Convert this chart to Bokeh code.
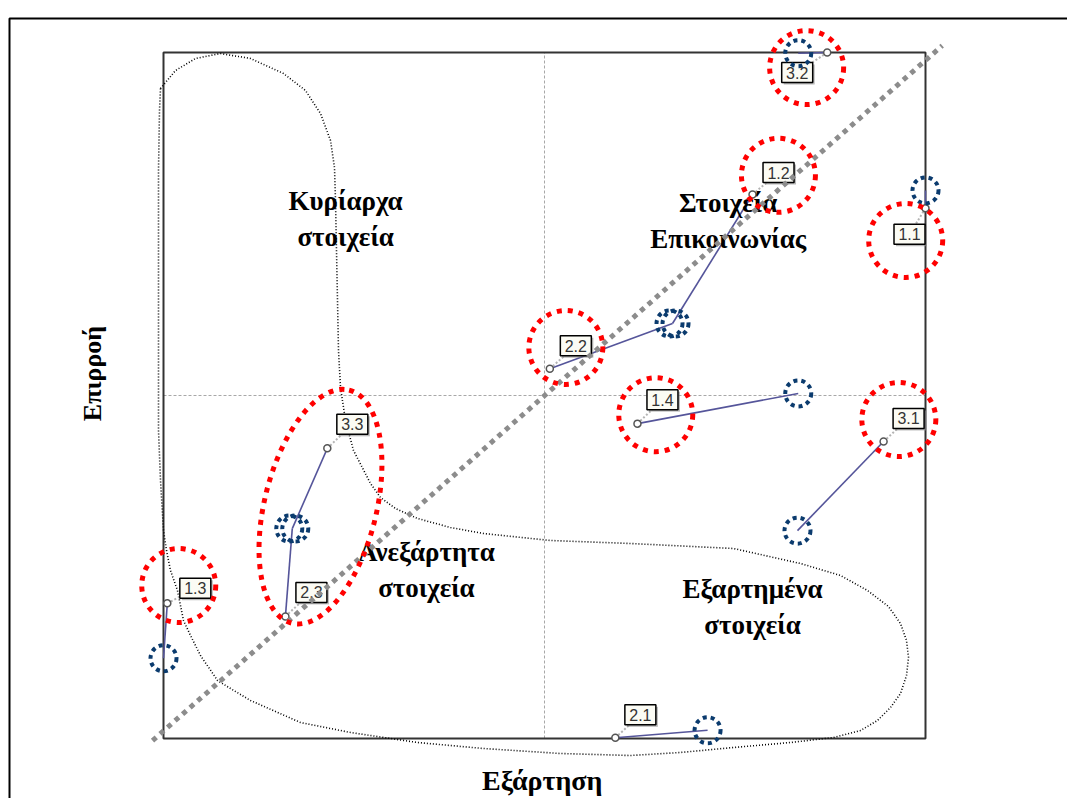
import numpy as np
from bokeh.plotting import figure
from bokeh.models import ColumnDataSource
from bokeh.embed import file_html
from bokeh.resources import INLINE
from bokeh.core.properties import value

# ---------------- data (0..1 scales: Εξάρτηση = x, Επιρροή = y) ----------------
items   = ["1.1", "1.2", "1.3", "1.4", "2.1", "2.2", "2.3", "3.1", "3.2", "3.3"]
dep_old = [1.000, 0.773, 0.005, 0.622, 0.593, 0.507, 0.160, 0.945, 0.871, 0.215]
inf_old = [0.773, 0.793, 0.197, 0.459, 0.001, 0.539, 0.178, 0.433, 1.000, 0.423]
dep_new = [1.000, 0.668, 0.000, 0.833, 0.714, 0.668, 0.169, 0.832, 0.833, 0.169]
inf_new = [0.799, 0.605, 0.117, 0.503, 0.012, 0.605, 0.306, 0.303, 0.999, 0.306]

# highlighted (red) groups
hl_x = [0.974, 0.807, 0.020, 0.646, 0.528, 0.965, 0.844]
hl_y = [0.726, 0.821, 0.223, 0.472, 0.570, 0.465, 0.978]
grp_x, grp_y = [0.206], [0.338]

quad_text = ["Κυρίαρχα\nστοιχεία", "Στοιχεία\nΕπικοινωνίας", "Ανεξάρτητα\nστοιχεία", "Εξαρτημένα\nστοιχεία"]
quad_x = [0.239, 0.741, 0.345, 0.773]
quad_y = [0.757, 0.755, 0.245, 0.192]

x_title, y_title = "Εξάρτηση", "Επιρροή"

# ---------------- layout / styles ----------------
W, H = 1067, 798
SX, SY = 762.0, 686.0          # px per unit
x0 = -163 / SX
x1 = x0 + W / SX
y1 = 738 / SY
y0 = y1 - H / SY

lab_dx = [-16, 26, 28, 25, 25, 26, 26, 25, -30, 25]   # px, right
lab_dy = [-26, 22, 15, 24, 23, 23, 24, 23, -20, 24]   # px, up
ring_dx = [0, -3, 0, 0, 0, 3, -3, 0, 0, 3]

# outline of the item regions (pixel readings of the hand-drawn lobe)
lobe_px = [(160, 88), (175, 70), (195, 58), (220, 53), (250, 58), (283, 73), (305, 90), (320, 113),
           (330, 140), (334, 167), (335, 200), (336, 250), (337, 300), (338, 350), (340, 387),
           (345, 420), (353, 450), (370, 483), (380, 497), (395, 508), (417, 518), (450, 527),
           (483, 533), (550, 540), (630, 543), (733, 548), (800, 563), (840, 575), (867, 590),
           (888, 606), (900, 623), (906, 640), (908, 657), (906, 675), (900, 693), (890, 707),
           (877, 720), (860, 730), (833, 737), (790, 742), (733, 747), (680, 752), (630, 755),
           (560, 753), (483, 748), (417, 742), (350, 732), (300, 722), (250, 700), (230, 688),
           (217, 680), (200, 655), (190, 635), (183, 620), (177, 590), (170, 570), (166, 550),
           (163, 530), (160, 480), (158, 430), (158, 350), (158, 250), (158, 170), (159, 110),
           (160, 88)]
lobe_x = [(a - 163) / SX for a, b in lobe_px]
lobe_y = [(738 - b) / SY for a, b in lobe_px]

p = figure(width=W, height=H, x_range=(x0, x1), y_range=(y0, y1),
           output_backend="svg", toolbar_location=None,
           x_axis_type=None, y_axis_type=None, min_border=0)
p.grid.visible = False
p.outline_line_color = None
p.background_fill_color = "white"

# outer frame
p.quad(left=[(9 - 163) / SX], right=[(1100 - 163) / SX], bottom=[(738 - 830) / SY], top=[(738 - 18) / SY],
       fill_color=None, line_color="black", line_width=2)

# center lines
p.segment(x0=[0.5, 0], y0=[0, 0.5], x1=[0.5, 1], y1=[1, 0.5],
          line_color="#a8a8a8", line_width=1, line_dash="3 2")

# inner frame
p.quad(left=[0], right=[1], bottom=[0], top=[1], fill_color=None,
       line_color="#333333", line_width=2)

# lobe
p.line(lobe_x, lobe_y, line_color="black", line_width=1.6, line_dash="1 2")

src = ColumnDataSource(dict(
    item=items, xo=dep_old, yo=inf_old, xn=dep_new, yn=inf_new,
    lx=[a + d / SX for a, d in zip(dep_old, lab_dx)],
    ly=[b + d / SY for b, d in zip(inf_old, lab_dy)],
    sx=[a + (d + 2) / SX for a, d in zip(dep_old, lab_dx)],
    sy=[b + (d - 2) / SY for b, d in zip(inf_old, lab_dy)],
    rx=[a + d / SX for a, d in zip(dep_new, ring_dx)],
))

# movement lines
p.segment(x0="xo", y0="yo", x1="xn", y1="yn", source=src,
          line_color="#55559a", line_width=1.6)
# leaders to labels
p.segment(x0="xo", y0="yo", x1="lx", y1="ly", source=src,
          line_color="#b4b4b4", line_width=2, line_dash="2 2")
# old position markers
p.scatter(x="xo", y="yo", source=src, size=7, marker="circle",
          fill_color="white", line_color="#555555", line_width=1.5)

# label boxes
p.rect(x="sx", y="sy", width=31, height=20, width_units="screen", height_units="screen",
       source=src, fill_color="#8a8a8a", fill_alpha=0.6, line_color=None)
p.rect(x="lx", y="ly", width=31, height=20, width_units="screen", height_units="screen",
       source=src, fill_color="#fbfbf4", line_color="black", line_width=1.5)
p.text(x="lx", y="ly", text="item", source=src, text_align="center", text_baseline="middle",
       text_font=value("Liberation Sans"), text_font_size="16px", text_color="#333333")

# quadrant names
p.text(x=quad_x, y=quad_y, text=quad_text, text_align="center", text_baseline="middle",
       text_font=value("Liberation Serif"), text_font_style="bold", text_font_size="27px",
       text_color="black", text_line_height=1.2)

# diagonal
p.line([-0.0144, 1.022], [-0.003, 1.010], line_color="#8c8c8c", line_width=5, line_dash="5 5")

# new-position rings
p.scatter(x="rx", y="yn", source=src, size=26, marker="circle", fill_color=None,
          line_color="#0b3b6e", line_width=4, line_dash="4 4")

# red highlight circles
p.scatter(x=hl_x, y=hl_y, size=74, marker="circle", fill_color=None,
          line_color="#ff0000", line_width=5, line_dash="5 6")
p.ellipse(x=grp_x, y=grp_y, width=240, height=112, width_units="screen", height_units="screen",
          angle=1.33, fill_color=None, line_color="#ff0000", line_width=5, line_dash="5 6")

# axis titles
p.text(x=[0.497], y=[-0.061], text=[x_title], text_align="center", text_baseline="middle",
       text_font=value("Liberation Serif"), text_font_style="bold", text_font_size="28px")
p.text(x=[-0.093], y=[0.532], text=[y_title], angle=np.pi / 2, text_align="center",
       text_baseline="middle", text_font=value("Liberation Serif"), text_font_style="bold",
       text_font_size="26px")

open("out.html", "w").write(file_html(p, INLINE))
